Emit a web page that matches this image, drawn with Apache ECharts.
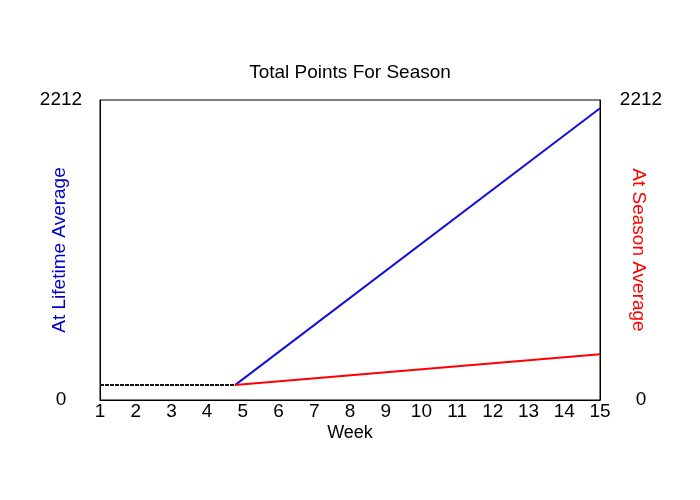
<!DOCTYPE html>
<html>
<head>
<meta charset="utf-8">
<script src="https://cdn.jsdelivr.net/npm/echarts@6/dist/echarts.min.js"></script>
<style>html,body{margin:0;padding:0;background:#fff;}#c{width:700px;height:500px;}</style>
</head>
<body>
<div id="c"></div>
<script>
var weeks = [1,2,3,4,5,6,7,8,9,10,11,12,13,14,15];
var yMax = 2212;
var baseline = [[1,110],[4.78,110]];
var lifetime = [[4.78,110],[15,2151]];
var season = [[4.78,110],[15,337]];

var chart = echarts.init(document.getElementById('c'));
var font = 'Liberation Sans, Arial, sans-serif';
chart.setOption({
  animation:false,
  backgroundColor:'#fff',
  title:{text:'Total Points For Season',left:'center',top:58,textStyle:{fontFamily:font,fontSize:19,fontWeight:'normal',color:'#000'}},
  grid:{left:100,right:100,top:100,bottom:100,show:true,borderColor:'#000',borderWidth:1,backgroundColor:'transparent'},
  xAxis:{type:'value',min:1,max:15,interval:1,name:'Week',nameLocation:'middle',nameGap:24,nameMoveOverlap:false,
    nameTextStyle:{fontFamily:font,fontSize:18,color:'#000'},
    axisLine:{show:true,lineStyle:{color:'#000',width:1}},axisTick:{show:false},splitLine:{show:false},
    axisLabel:{fontFamily:font,fontSize:19,color:'#000',margin:2}},
  yAxis:[
    {type:'value',min:0,max:yMax,interval:yMax,position:'left',name:'At Lifetime Average',nameLocation:'middle',nameRotate:90,nameGap:31,nameMoveOverlap:false,
     nameTextStyle:{fontFamily:font,fontSize:19,color:'#0000cc'},
     axisLine:{show:true,lineStyle:{color:'#000'}},axisTick:{show:false},splitLine:{show:false},
     axisLabel:{fontFamily:font,fontSize:19,color:'#000',margin:39,align:'center',formatter:function(v){return String(v);}}},
    {type:'value',min:0,max:yMax,interval:yMax,position:'right',name:'At Season Average',nameLocation:'middle',nameRotate:-90,nameGap:29,nameMoveOverlap:false,
     nameTextStyle:{fontFamily:font,fontSize:19,color:'#ff0000'},
     axisLine:{show:true,lineStyle:{color:'#000'}},axisTick:{show:false},splitLine:{show:false},
     axisLabel:{fontFamily:font,fontSize:19,color:'#000',margin:41,align:'center',formatter:function(v){return String(v);}}}
  ],
  series:[
    {type:'line',data:lifetime,symbol:'none',lineStyle:{color:'#1010dd',width:2}},
    {type:'line',data:season,symbol:'none',yAxisIndex:1,lineStyle:{color:'#ff0000',width:2}},
    {type:'line',data:baseline,symbol:'none',lineStyle:{color:'#111',width:2,type:[4,1]}}
  ]
});
</script>
</body>
</html>
